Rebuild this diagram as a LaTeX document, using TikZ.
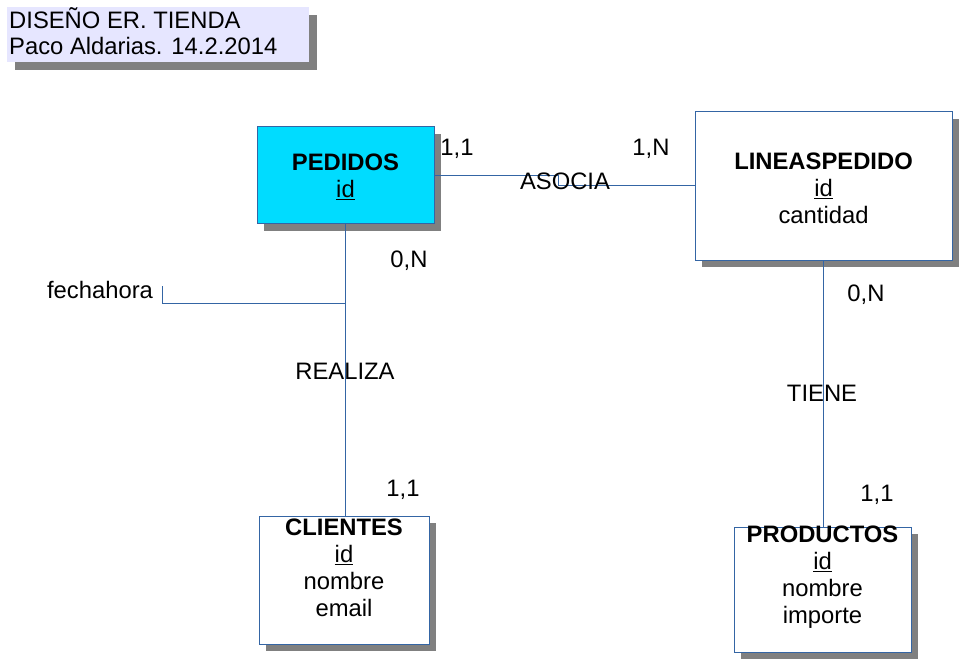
\documentclass[tikz,border=0pt]{standalone}
\usepackage{fontspec}
\setmainfont{Liberation Sans}
\usepackage{tikz}
\usetikzlibrary{shadows}
\usetikzlibrary{positioning}
\definecolor{borde}{RGB}{52,101,164}
\definecolor{cian}{RGB}{0,220,255}
\definecolor{lavanda}{RGB}{230,230,255}
\definecolor{sombragris}{RGB}{128,128,128}
\tikzset{
    entidad/.style={draw=borde, line width=1pt, fill=white, inner sep=0pt,
        drop shadow={shadow xshift=7pt, shadow yshift=-7pt, fill=sombragris, opacity=1}},
    entidadazul/.style={entidad, fill=cian},
    texto/.style={inner sep=0pt, align=center, font=\fontsize{23.8}{27}\selectfont},
    etiqueta/.style={inner sep=0pt, font=\fontsize{23.8}{26.5}\selectfont},
    relacion/.style={draw=borde, line width=1pt},
}

\begin{document}
\begin{tikzpicture}[x=1pt, y=-1pt]
	\useasboundingbox (0,0) rectangle (960,660);
	% titulo
	\node[inner sep=0pt, minimum width=302pt, minimum height=55pt, fill=lavanda,
		drop shadow={shadow xshift=8pt, shadow yshift=-8pt, fill=sombragris, opacity=1}] (titulo) at (158,34.5) {};
	\node[etiqueta, anchor=west, align=left] (tituloT) at (9,31) {DISEÑO ER. TIENDA\\Paco Aldarias. 14.2.2014};
	% entidades
	\node[entidadazul, minimum width=177pt, minimum height=97pt] (ped) at (345.5,175.5) {};
	\node[texto] (pedT) at (345.5,177) {\textbf{PEDIDOS}\\\underline{id}};
	\node[entidad, minimum width=257pt, minimum height=148pt] (lin) at (823.5,186) {};
	\node[texto] (linT) at (823.5,188) {\textbf{LINEASPEDIDO}\\\underline{id}\\cantidad};
	\node[entidad, minimum width=170pt, minimum height=128pt] (cli) at (344,580) {};
	\node[texto] (cliT) at (344,568) {\textbf{CLIENTES}\\\underline{id}\\nombre\\email};
	\node[entidad, minimum width=177pt, minimum height=125pt] (pro) at (822.5,589.5) {};
	\node[texto] (proT) at (822.5,577.5) {\textbf{PRODUCTOS}\\\underline{id}\\nombre\\importe};
	% relaciones
	\coordinate (asA) at (558,175.5);
	\coordinate (asB) at (558,186);
	\draw[relacion] (ped.east) -- (asA) -- (asB) -- (lin.west);
	\draw[relacion] (ped.south) -- (ped.south |- cli.north);
	\draw[relacion] (lin.south) -- (lin.south |- pro.north);
	\coordinate (fhA) at (345,303);
	\coordinate (fhB) at (162,303);
	\coordinate (fhC) at (162,286);
	\draw[relacion] (fhA) -- (fhB) -- (fhC);
	% etiquetas
	\node[etiqueta] (asocia) at (565,181) {ASOCIA};
	\node[etiqueta] (realiza) at (345,371) {REALIZA};
	\node[etiqueta] (tiene) at (822,393) {TIENE};
	\node[etiqueta] (fecha) at (100,290) {fechahora};
	\node[etiqueta] (c1) at (457,149) {1,1};
	\node[etiqueta] (c2) at (651,149) {1,N};
	\node[etiqueta] (c3) at (409,261) {0,N};
	\node[etiqueta] (c4) at (403,490) {1,1};
	\node[etiqueta] (c5) at (866,295) {0,N};
	\node[etiqueta] (c6) at (877,495) {1,1};
\end{tikzpicture}
\end{document}
